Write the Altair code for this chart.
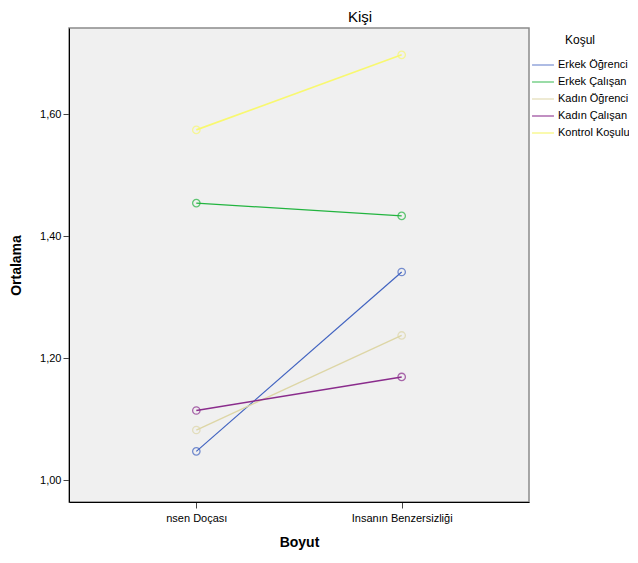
import altair as alt
import pandas as pd

dimensions = ["İnsan Doğası", "İnsanın Benzersizliği"]
dim_labels = ["nsen Doçası", "Insanın Benzersizliği"]
groups = ["Erkek Öğrenci", "Erkek Çalışan", "Kadın Öğrenci", "Kadın Çalışan", "Kontrol Koşulu"]
colors = ["#4163c0", "#22b43f", "#ddd6a6", "#8a2c8c", "#f8f870"]
widths = [1.2, 1.6, 1.6, 2.2, 1.6]
val_first = [1.047, 1.454, 1.082, 1.114, 1.574]
val_second = [1.341, 1.433, 1.237, 1.169, 1.697]

rows = []
for g, a, b in zip(groups, val_first, val_second):
    rows.append({"Boyut": dimensions[0], "Koşul": g, "Ortalama": a})
    rows.append({"Boyut": dimensions[1], "Koşul": g, "Ortalama": b})
df = pd.DataFrame(rows)

label_expr = "datum.value == '" + dimensions[0] + "' ? '" + dim_labels[0] + "' : '" + dim_labels[1] + "'"

x = alt.X("Boyut:N", sort=dimensions, title="Boyut",
          scale=alt.Scale(type="point", padding=0.62),
          axis=alt.Axis(labelAngle=0, labelExpr=label_expr, labelFontSize=11,
                        labelColor="#000", titleFontSize=14, titleFontWeight="bold",
                        titleColor="#000", titlePadding=12, domainColor="#000",
                        tickColor="#444", tickSize=6, labelPadding=4))
y = alt.Y("Ortalama:Q", title="Ortalama",
          scale=alt.Scale(domain=[0.964, 1.741], nice=False, zero=False),
          axis=alt.Axis(values=[1.0, 1.2, 1.4, 1.6], labelExpr="replace(format(datum.value, '.2f'), '.', ',')",
                        labelFontSize=11, labelColor="#000", titleFontSize=14,
                        titleFontWeight="bold", titleColor="#000", titlePadding=16,
                        domainColor="#000", tickColor="#444", tickSize=6, grid=False))
color = alt.Color("Koşul:N", sort=groups, scale=alt.Scale(domain=groups, range=colors),
                  legend=alt.Legend(title="Koşul", orient="none", legendX=462, legendY=7,
                                    symbolType="stroke", symbolSize=480,
                                    labelFontSize=11, titleFontSize=12, titleFontWeight="normal",
                                    titleColor="#000", labelColor="#000", titlePadding=6,
                                    titleAnchor="middle", labelOffset=3,
                                    rowPadding=0, labelLimit=120))

base = alt.Chart(df).encode(x=x, y=y, color=color)
lines = base.mark_line().encode(
    strokeWidth=alt.StrokeWidth("Koşul:N", sort=groups,
                                scale=alt.Scale(domain=groups, range=widths), legend=None))
pts = base.mark_point(shape="circle", size=55, filled=False, strokeWidth=1.3)

chart = (lines + pts).properties(
    width=460, height=474,
    title=alt.Title("Kişi", fontSize=15, fontWeight="normal", color="#000", anchor="middle", dx=61, offset=3),
    padding={"left": 61, "top": 20, "right": 100, "bottom": 52},
    autosize=alt.AutoSizeParams(type="none"),
).configure(font="Liberation Sans").configure_view(
    fill="#f0f0f0", stroke="#8a8a8a", strokeWidth=1.5
).configure_legend(symbolStrokeWidth=2)

chart.save("out.html", embed_options={"renderer": "svg", "actions": False})
